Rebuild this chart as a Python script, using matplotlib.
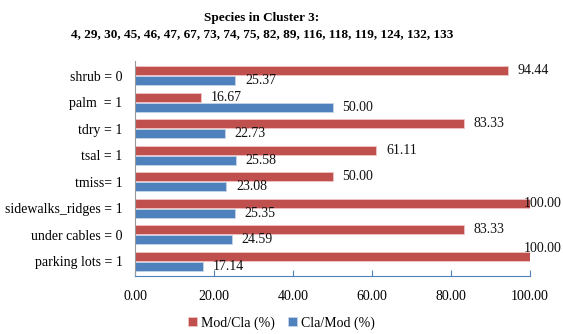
import matplotlib
matplotlib.use("Agg")
import matplotlib.pyplot as plt
import numpy as np

plt.rcParams['font.family'] = ['Liberation Serif', 'DejaVu Serif']

# Datos del gráfico (de arriba a abajo)
categorias = ["shrub = 0", "palm  = 1", "tdry = 1", "tsal = 1", "tmiss= 1",
              "sidewalks_ridges = 1", "under cables = 0", "parking lots = 1"]
mod_cla = [94.44, 16.67, 83.33, 61.11, 50.00, 100.00, 83.33, 100.00]
cla_mod = [25.37, 50.00, 22.73, 25.58, 23.08, 25.35, 24.59, 17.14]
ticks_x = [0, 20, 40, 60, 80, 100]

rojo = "#C0504D"
azul = "#4F81BD"

fig = plt.figure(figsize=(5.63, 3.34), dpi=100)
ax = fig.add_axes([0.2398, 0.1737, 0.7016, 0.6437])

n = len(categorias)
y = np.arange(n)[::-1]
alto = 0.34
barras_r = ax.barh(y + 0.19, mod_cla, height=alto, color=rojo,
                   edgecolor="#f2c4c3", linewidth=0.6, label="Mod/Cla (%)")
barras_a = ax.barh(y - 0.19, cla_mod, height=alto, color=azul,
                   edgecolor="#c4d4ea", linewidth=0.6, label="Cla/Mod (%)")

# Etiquetas de valores
for yy, v in zip(y, mod_cla):
    if v >= 100:
        dx, dy = -4.5, (6 if yy == 0 else 0)
    else:
        dx, dy = 7, 0
    ax.annotate(f"{v:.2f}", (v, yy + 0.19), xytext=(dx, dy), textcoords="offset points",
                ha="left", va="center", fontsize=10, color="#111111")
for yy, v in zip(y, cla_mod):
    ax.annotate(f"{v:.2f}", (v, yy - 0.19), xytext=(7, 0), textcoords="offset points",
                ha="left", va="center", fontsize=10, color="#111111")

ax.set_xlim(0, 100)
ax.set_ylim(-0.55, n - 0.45)
ax.set_yticks(y)
ax.set_yticklabels(categorias, fontsize=10)
ax.set_xticks(ticks_x)
ax.set_xticklabels([f"{t:.2f}" for t in ticks_x], fontsize=10)
ax.tick_params(axis="y", length=0, pad=9)
ax.tick_params(axis="x", direction="in", length=4, color=azul, pad=10)

for lado in ["top", "right"]:
    ax.spines[lado].set_visible(False)
ax.spines["left"].set_color("#999999")
ax.spines["bottom"].set_color(azul)

fig.suptitle("Species in Cluster 3:\n4, 29, 30, 45, 46, 47, 67, 73, 74, 75, 82, 89, 116, 118, 119, 124, 132, 133",
             fontsize=9.5, fontweight="bold", y=0.965, x=0.465, linespacing=1.45)

fig.legend(handles=[barras_r, barras_a], loc="center", bbox_to_anchor=(0.5, 0.033),
           ncol=2, frameon=False, fontsize=10, handlelength=0.6, handleheight=0.6,
           handletextpad=0.3, columnspacing=1.0)

fig.savefig("out.png", dpi=100)
